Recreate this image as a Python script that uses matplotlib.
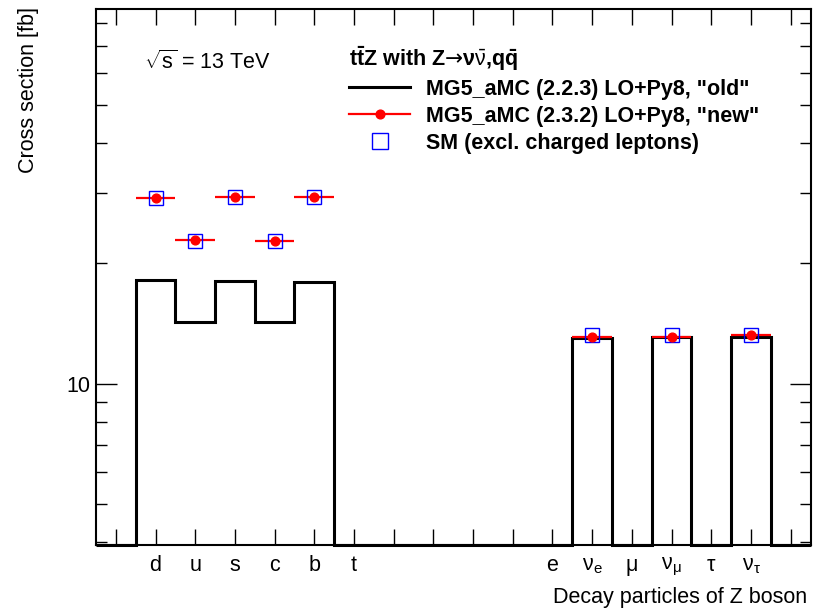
import numpy as np
import matplotlib
matplotlib.use("Agg")
import matplotlib.pyplot as plt
from matplotlib.lines import Line2D
from matplotlib.ticker import FixedLocator, NullFormatter, FixedFormatter

plt.rcParams['font.family'] = 'Liberation Sans'
plt.rcParams['mathtext.fontset'] = 'custom'
plt.rcParams['mathtext.rm'] = 'Liberation Sans'
plt.rcParams['mathtext.it'] = 'Liberation Sans:italic'
plt.rcParams['mathtext.bf'] = 'Liberation Sans:bold'
plt.rcParams['mathtext.sf'] = 'DejaVu Sans'

FS = 15.5

# bin labels (Z decay products), one per bin
particles = ['', 'd', 'u', 's', 'c', 'b', 't', '', '', '', '',
             'e', r'$\mathrm{ν}_\mathrm{e}$', 'μ', r'$\mathrm{ν}_\mathrm{μ}$',
             'τ', r'$\mathrm{ν}_\mathrm{τ}$', '']

# "old" MG5_aMC 2.2.3 cross sections per bin [fb]
xs_old = [0, 18.2, 14.3, 18.1, 14.3, 18.0, 0, 0, 0, 0, 0,
          0, 13.0, 0, 13.1, 0, 13.1, 0]

# "new" MG5_aMC 2.3.2 and SM values, only for filled bins
filled_bins = [1, 2, 3, 4, 5, 12, 14, 16]
xs_new = [29.2, 22.9, 29.4, 22.8, 29.3, 13.1, 13.1, 13.2]
xs_sm = [29.1, 22.8, 29.4, 22.8, 29.3, 13.2, 13.2, 13.2]

ymin, ymax = 3.94, 86.6

fig = plt.figure(figsize=(8.15, 6.12), dpi=100)
ax = fig.add_axes([96/815, 1 - 545/612, (810.5 - 96)/815, (545 - 9.3)/612])

nbins = len(particles)
edges = np.arange(nbins + 1) - 0.5
old = np.array(xs_old, dtype=float)
# empty bins sit on the bottom of the log axis
old_draw = np.where(old > 0, old, ymin)
ax.stairs(old_draw, edges, baseline=None, color='black', linewidth=2.2, clip_on=False)

ax.errorbar(filled_bins, xs_new, xerr=0.5, fmt='o', color='red',
            markersize=6.3, elinewidth=1.6, capsize=0)
ax.plot(filled_bins, xs_sm, 's', markerfacecolor='none',
        markeredgecolor='blue', markersize=9.6, markeredgewidth=1.0)

ax.set_yscale('log')
ax.set_xlim(-0.5, nbins - 0.5)
ax.set_ylim(ymin, ymax)

ax.set_xticks(np.arange(nbins))
ax.set_xticklabels(particles, fontsize=FS)
ax.yaxis.set_major_locator(FixedLocator([10]))
ax.yaxis.set_major_formatter(FixedFormatter(['10']))
ax.yaxis.set_minor_locator(FixedLocator([4, 5, 6, 7, 8, 9, 20, 30, 40, 50, 60, 70, 80]))
ax.yaxis.set_minor_formatter(NullFormatter())
ax.tick_params(axis='x', which='both', direction='in', top=True, length=11.5,
               width=1.0, pad=7.5)
ax.tick_params(axis='y', which='major', direction='in', right=True, length=15,
               width=1.0, labelsize=FS, pad=4)
ax.tick_params(axis='y', which='minor', direction='in', right=True, length=8,
               width=1.0)
for sp in ax.spines.values():
    sp.set_linewidth(1.5)

ax.set_xlabel('Decay particles of Z boson', fontsize=FS, ha='right', va='center')
ax.xaxis.set_label_coords((807 - 96)/714.5, -(597 - 545)/535.7)
ax.set_ylabel('Cross section [fb]', fontsize=FS, ha='right', va='center')
ax.yaxis.set_label_coords((29 - 96)/714.5, (545 - 7)/535.7)

fig.text(144/815, 1 - 62/612, r'$\sqrt{\mathrm{s}}$ = 13 TeV', fontsize=FS,
         ha='left', va='center')

# legend keys
k_old = Line2D([], [], color='black', linewidth=2.2)
k_new = Line2D([], [], color='red', linewidth=1.6, marker='o', markersize=6.3)
k_sm = Line2D([], [], linestyle='none', marker='s', markerfacecolor='none',
              markeredgecolor='blue', markersize=12, markeredgewidth=1.0)
header = r't$\mathbf{\bar{t}}$Z with Z$\mathsf{→}$ν$\mathrm{\bar{ν}}$,q$\mathbf{\bar{q}}$'
ax.legend([k_old, k_new, k_sm],
          ['MG5_aMC (2.2.3) LO+Py8, "old"', 'MG5_aMC (2.3.2) LO+Py8, "new"',
           'SM (excl. charged leptons)'],
          title=header, loc='upper left',
          bbox_to_anchor=(349/815, 1 - 44/612), bbox_transform=fig.transFigure,
          frameon=False, prop={'weight': 'bold', 'size': FS},
          title_fontproperties={'weight': 'bold', 'size': FS},
          alignment='left', handlelength=2.85, handletextpad=0.75,
          labelspacing=0.28, borderpad=0, borderaxespad=0)

fig.savefig('out.png', dpi=100)
